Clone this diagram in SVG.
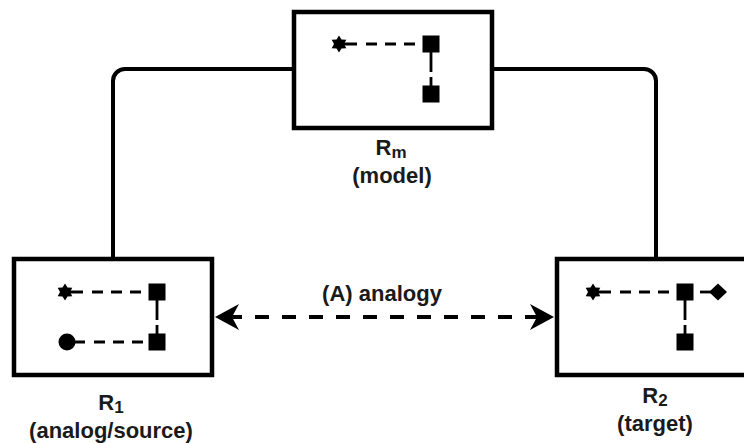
<svg xmlns="http://www.w3.org/2000/svg" xmlns:xlink="http://www.w3.org/1999/xlink" width="744" height="443" viewBox="0 0 744 443">
  <style>
    .box { fill: #ffffff; stroke: #000000; stroke-width: 4.5; }
    .wire { fill: none; stroke: #000000; stroke-width: 4; }
    .analogy { fill: none; stroke: #000000; stroke-width: 4; stroke-dasharray: 14 13; stroke-dashoffset: 4; }
    .link { fill: none; stroke: #000000; stroke-width: 2.8; stroke-dasharray: 18 9 11 8 11 8 11 8 11 8 11 8; }
    .vlink { fill: none; stroke: #000000; stroke-width: 2.8; stroke-dasharray: 28 5 60; }
    .glyph { fill: #000000; stroke: none; }
    .label { font-family: "Liberation Sans", Arial, sans-serif; font-size: 22px; font-weight: bold; fill: #1a1a1a; text-anchor: middle; }
    .sub { font-size: 17px; }
  </style>
  <defs>
    <!-- six-pointed star marker for the inner relation diagrams -->
    <path id="star" d="M0,-8.5 L2.5,-4.4 L7.3,-4.25 L5,0 L7.3,4.25 L2.5,4.4 L0,8.5 L-2.5,4.4 L-7.3,4.25 L-5,0 L-7.3,-4.25 L-2.5,-4.4 Z"/>
    <rect id="sq" x="-8.5" y="-8.5" width="17" height="17"/>
    <path id="diamond" d="M0,-8.5 L9,0 L0,8.5 L-9,0 Z"/>
    <marker id="head" markerUnits="userSpaceOnUse" viewBox="0 -14 25 28" markerWidth="25" markerHeight="28" refX="7" refY="0" orient="auto-start-reverse">
      <path d="M0,-13 L24,0 L0,13 L7,0 Z" fill="#000000"/>
    </marker>
  </defs>

  <!-- connectors -->
  <g id="connectors">
    <path class="wire" d="M113,259 V81 A12,12 0 0 1 125,69 H294"/>
    <path class="wire" d="M656,259 V81 A12,12 0 0 0 644,69 H492"/>
    <line class="analogy" x1="232" y1="317" x2="537" y2="317" marker-start="url(#head)" marker-end="url(#head)"/>
    <text class="label" x="382" y="301">(A) analogy</text>
  </g>

  <!-- model -->
  <g id="node-model">
    <rect class="box" x="294" y="12" width="198" height="116"/>
    <line class="link" x1="339" y1="44" x2="423" y2="44"/>
    <line class="vlink" x1="431" y1="44" x2="431" y2="94"/>
    <use href="#star" x="339" y="44" class="glyph"/>
    <use href="#sq" x="431" y="44" class="glyph"/>
    <use href="#sq" x="431" y="94" class="glyph"/>
    <text class="label" x="391" y="155">R<tspan class="sub" dy="3">m</tspan></text>
    <text class="label" x="392" y="183">(model)</text>
  </g>

  <!-- source -->
  <g id="node-source">
    <rect class="box" x="14" y="259" width="198" height="116"/>
    <line class="link" x1="65" y1="292" x2="149" y2="292"/>
    <line class="link" x1="67" y1="342" x2="149" y2="342"/>
    <line class="vlink" x1="157" y1="292" x2="157" y2="342"/>
    <use href="#star" x="65" y="292" class="glyph"/>
    <circle cx="67" cy="342" r="8.5" class="glyph"/>
    <use href="#sq" x="157" y="292" class="glyph"/>
    <use href="#sq" x="157" y="342" class="glyph"/>
    <text class="label" x="111" y="410">R<tspan class="sub" dy="3">1</tspan></text>
    <text class="label" x="111" y="438">(analog/source)</text>
  </g>

  <!-- target -->
  <g id="node-target">
    <rect class="box" x="557" y="259" width="198" height="116"/>
    <line class="link" x1="593" y1="292" x2="677" y2="292"/>
    <line class="link" x1="718" y1="292" x2="693" y2="292"/>
    <line class="vlink" x1="685" y1="292" x2="685" y2="342"/>
    <use href="#star" x="593" y="292" class="glyph"/>
    <use href="#diamond" x="718" y="292" class="glyph"/>
    <use href="#sq" x="685" y="292" class="glyph"/>
    <use href="#sq" x="685" y="342" class="glyph"/>
    <text class="label" x="655" y="403">R<tspan class="sub" dy="3">2</tspan></text>
    <text class="label" x="655" y="431">(target)</text>
  </g>
</svg>
